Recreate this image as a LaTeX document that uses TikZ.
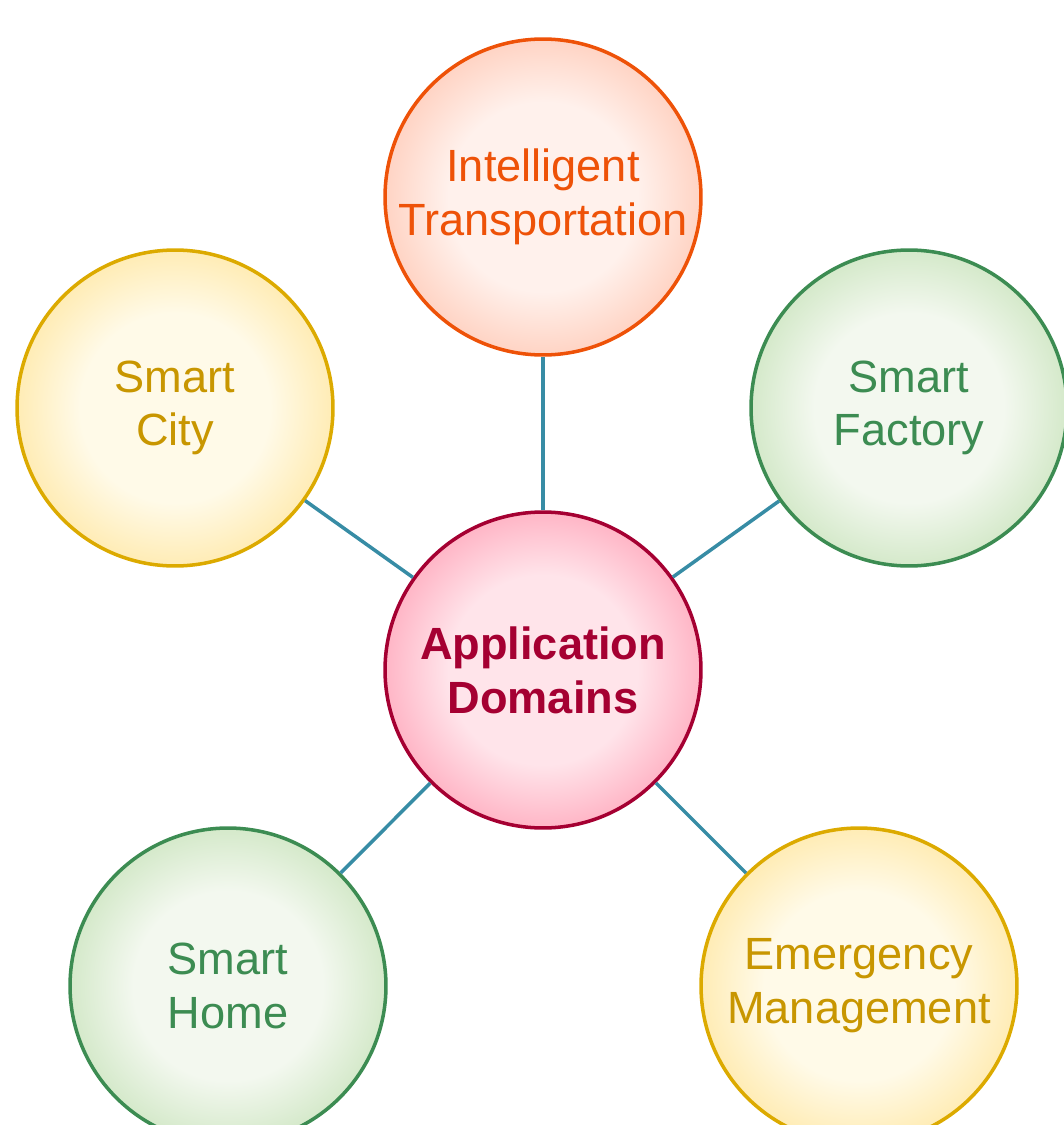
\documentclass[tikz,border=0pt]{standalone}
\usepackage{fontspec}
\setmainfont{Liberation Sans}
\usepackage{tikz}
\usetikzlibrary{positioning}

\definecolor{linkcol}{RGB}{55,140,165}
\definecolor{transline}{RGB}{238,82,8}
\definecolor{transin}{RGB}{255,241,236}
\definecolor{transout}{RGB}{255,182,156}
\definecolor{domline}{RGB}{165,0,50}
\definecolor{domin}{RGB}{255,228,234}
\definecolor{domout}{RGB}{255,135,162}
\definecolor{goldline}{RGB}{220,170,0}
\definecolor{goldtext}{RGB}{200,150,0}
\definecolor{goldin}{RGB}{255,250,232}
\definecolor{goldout}{RGB}{255,222,130}
\definecolor{greenline}{RGB}{60,140,82}
\definecolor{greenin}{RGB}{243,248,239}
\definecolor{greenout}{RGB}{182,218,165}

\pgfdeclareradialshading{transfill}{\pgfpoint{0bp}{0bp}}{color(0bp)=(transin); color(15bp)=(transin); color(35bp)=(transout); color(50bp)=(transout)}
\pgfdeclareradialshading{domfill}{\pgfpoint{0bp}{0bp}}{color(0bp)=(domin); color(15bp)=(domin); color(35bp)=(domout); color(50bp)=(domout)}
\pgfdeclareradialshading{goldfill}{\pgfpoint{0bp}{0bp}}{color(0bp)=(goldin); color(15bp)=(goldin); color(35bp)=(goldout); color(50bp)=(goldout)}
\pgfdeclareradialshading{greenfill}{\pgfpoint{0bp}{0bp}}{color(0bp)=(greenin); color(15bp)=(greenin); color(35bp)=(greenout); color(50bp)=(greenout)}

\begin{document}
\begin{tikzpicture}[x=0.02cm, y=-0.02cm]
        \tikzstyle{every node}=[circle, minimum size=6.32cm, inner sep=0pt, line width=2pt, align=center, font=\fontsize{25.7}{30.6}\selectfont]
        \tikzstyle{link}=[draw=linkcol, line width=2pt]
        \tikzstyle{gold}=[draw=goldline, shading=goldfill, text=goldtext]
        \tikzstyle{green}=[draw=greenline, shading=greenfill, text=greenline]

        \useasboundingbox (0,0) rectangle (1064,1125);

        \node   (domains)   at (543,670) [draw=domline, shading=domfill, text=domline, font=\fontsize{25.7}{30.6}\selectfont\bfseries] {Application\\Domains};
        \node   (transport) at (543,197) [draw=transline, shading=transfill, text=transline] {Intelligent\\Transportation};
        \node   (city)      at (175,408) [gold] {Smart\\City};
        \node   (factory)   at (909,408) [green] {Smart\\Factory};
        \node   (home)      at (228,986) [green] {Smart\\Home};
        \node   (emergency) at (859,986) [gold] {Emergency\\Management};

        \draw[link] (domains) -- (transport);
        \draw[link] (domains) -- (city);
        \draw[link] (domains) -- (factory);
        \draw[link] (domains) -- (home);
        \draw[link] (domains) -- (emergency);

    \end{tikzpicture}
\end{document}
